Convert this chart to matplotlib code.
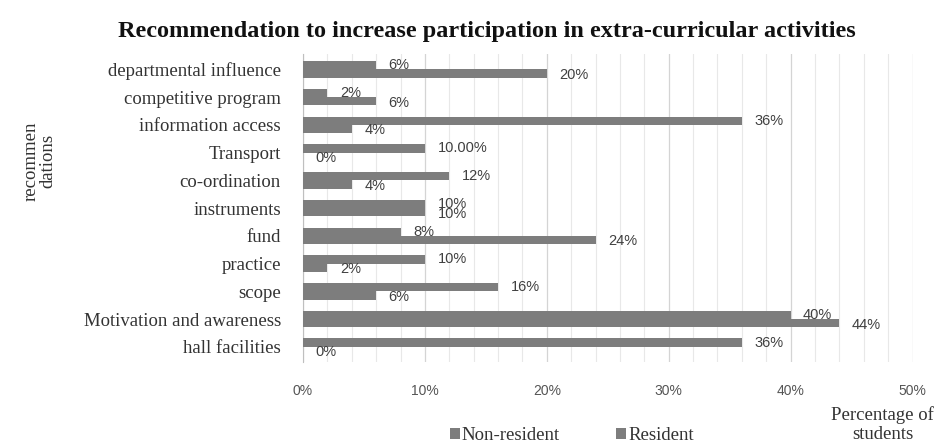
import numpy as np
import matplotlib.pyplot as plt
from matplotlib.ticker import MultipleLocator, PercentFormatter

categories = ["hall facilities", "Motivation and awareness", "scope", "practice",
              "fund", "instruments", "co-ordination", "Transport",
              "information access", "competitive program", "departmental influence"]
resident = [36, 40, 16, 10, 8, 10, 12, 10, 36, 2, 6]
non_resident = [0, 44, 6, 2, 24, 10, 4, 0, 4, 6, 20]
resident_labels = ["36%", "40%", "16%", "10%", "8%", "10%", "12%", "10.00%", "36%", "2%", "6%"]
non_resident_labels = ["0%", "44%", "6%", "2%", "24%", "10%", "4%", "0%", "4%", "6%", "20%"]

bar_gray = "#7d7d7d"
serif = ["Liberation Serif", "DejaVu Serif"]
sans = ["Liberation Sans", "DejaVu Sans"]

fig = plt.figure(figsize=(9.42, 4.47), dpi=100)
ax = fig.add_axes([0.3217, 0.19, 0.647, 0.689])

y = np.arange(len(categories))
h = 0.30
ax.barh(y - h / 2, non_resident, height=h, color=bar_gray, label="Non-resident", zorder=3)
ax.barh(y + h / 2, resident, height=h, color=bar_gray, label="Resident", zorder=3)

# value labels just past the bar ends
for yi, v, lab in zip(y, resident, resident_labels):
    ax.annotate(lab, (v, yi + h / 2), xytext=(9, 0), textcoords="offset points",
                va="center", ha="left", fontsize=10.5, color="#404040", family=sans)
for yi, v, lab in zip(y, non_resident, non_resident_labels):
    ax.annotate(lab, (v, yi - h / 2), xytext=(9, -1), textcoords="offset points",
                va="center", ha="left", fontsize=10.5, color="#404040", family=sans)

ax.set_xlim(0, 50)
ax.set_ylim(-0.55, len(categories) - 0.45)
ax.xaxis.set_major_locator(MultipleLocator(10))
ax.xaxis.set_minor_locator(MultipleLocator(2))
ax.xaxis.set_major_formatter(PercentFormatter(decimals=0))
ax.grid(axis="x", which="major", color="#d4d4d4", lw=0.9, zorder=0)
ax.grid(axis="x", which="minor", color="#e8e8e8", lw=0.8, zorder=0)

ax.set_yticks(y)
ax.set_yticklabels(categories, family=serif, fontsize=13.5, color="#333333")
ax.tick_params(axis="y", length=0, pad=16)
ax.tick_params(axis="x", which="both", length=0, pad=16, labelsize=10, labelcolor="#555555")
for t in ax.get_xticklabels():
    t.set_family(sans)

for s in ["top", "right", "bottom"]:
    ax.spines[s].set_visible(False)
ax.spines["left"].set_color("#bfbfbf")

fig.text(0.517, 0.93, "Recommendation to increase participation in extra-curricular activities",
         ha="center", va="center", fontsize=17.5, fontweight="bold", family=serif, color="#111111")
fig.text(0.042, 0.64, "recommen\ndations", rotation=90, ha="center", va="center",
         fontsize=13.5, family=serif, color="#333333", linespacing=1.0)
fig.text(0.937, 0.05, "Percentage of\nstudents", ha="center", va="center",
         fontsize=13.5, family=serif, color="#333333", linespacing=1.1)

leg = fig.legend(loc="center", bbox_to_anchor=(0.607, 0.025), ncol=2, frameon=False,
                 handlelength=0.55, handleheight=0.55, handletextpad=0.1, columnspacing=3.0,
                 prop={"family": serif, "size": 13.5})
for t in leg.get_texts():
    t.set_color("#333333")

fig.savefig("out.png", dpi=100)
